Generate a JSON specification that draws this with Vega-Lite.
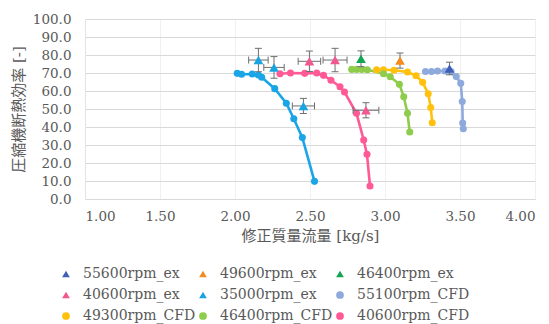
{
  "$schema": "https://vega.github.io/schema/vega-lite/v6.json",
  "width": 450,
  "height": 180,
  "autosize": {"type": "none"},
  "padding": {"left": 85, "top": 19, "right": 14, "bottom": 125},
  "background": "white",
  "config": {
    "font": "DejaVu Serif, Noto Sans CJK JP",
    "view": {"stroke": null},
    "axis": {"labelColor": "#595959", "titleColor": "#595959", "titleFontWeight": "normal", "ticks": false, "labelFontSize": 13.5, "titleFontSize": 15, "labelFont": "DejaVu Serif", "titleFont": "DejaVu Serif, Noto Sans CJK JP", "labelOverlap": false}
  },
  "datasets": {
    "ex": [
      {"series": "55600rpm_ex", "x": 3.43, "y": 72.5, "ylo": 69.0, "yhi": 76.0, "xlo": null, "xhi": null},
      {"series": "49600rpm_ex", "x": 3.10, "y": 76.9, "ylo": 72.7, "yhi": 81.1, "xlo": null, "xhi": null},
      {"series": "46400rpm_ex", "x": 2.84, "y": 77.9, "ylo": 73.5, "yhi": 82.3, "xlo": null, "xhi": null},
      {"series": "40600rpm_ex", "x": 2.496, "y": 76.5, "ylo": 70.8, "yhi": 82.2, "xlo": 2.421, "xhi": 2.571},
      {"series": "40600rpm_ex", "x": 2.667, "y": 77.2, "ylo": 70.7, "yhi": 83.7, "xlo": 2.587, "xhi": 2.747},
      {"series": "40600rpm_ex", "x": 2.873, "y": 49.3, "ylo": 45.1, "yhi": 53.5, "xlo": 2.787, "xhi": 2.959},
      {"series": "35000rpm_ex", "x": 2.156, "y": 77.2, "ylo": 70.7, "yhi": 83.7, "xlo": 2.091, "xhi": 2.221},
      {"series": "35000rpm_ex", "x": 2.26, "y": 73.1, "ylo": 67.1, "yhi": 79.1, "xlo": 2.192, "xhi": 2.328},
      {"series": "35000rpm_ex", "x": 2.456, "y": 51.7, "ylo": 47.5, "yhi": 55.9, "xlo": 2.382, "xhi": 2.530}
    ],
    "cfd": [
      {"series": "55100rpm_CFD", "x": 3.27, "y": 70.8},
      {"series": "55100rpm_CFD", "x": 3.31, "y": 70.8},
      {"series": "55100rpm_CFD", "x": 3.35, "y": 71.1},
      {"series": "55100rpm_CFD", "x": 3.40, "y": 71.1},
      {"series": "55100rpm_CFD", "x": 3.44, "y": 70.8},
      {"series": "55100rpm_CFD", "x": 3.475, "y": 68.0},
      {"series": "55100rpm_CFD", "x": 3.505, "y": 64.3},
      {"series": "55100rpm_CFD", "x": 3.515, "y": 54.2},
      {"series": "55100rpm_CFD", "x": 3.518, "y": 42.2},
      {"series": "55100rpm_CFD", "x": 3.522, "y": 39.0},
      {"series": "49300rpm_CFD", "x": 2.944, "y": 71.8},
      {"series": "49300rpm_CFD", "x": 2.99, "y": 71.8},
      {"series": "49300rpm_CFD", "x": 3.06, "y": 71.5},
      {"series": "49300rpm_CFD", "x": 3.15, "y": 70.6},
      {"series": "49300rpm_CFD", "x": 3.207, "y": 68.5},
      {"series": "49300rpm_CFD", "x": 3.251, "y": 64.8},
      {"series": "49300rpm_CFD", "x": 3.288, "y": 58.5},
      {"series": "49300rpm_CFD", "x": 3.305, "y": 50.8},
      {"series": "49300rpm_CFD", "x": 3.315, "y": 42.4},
      {"series": "46400rpm_CFD", "x": 2.778, "y": 72.0},
      {"series": "46400rpm_CFD", "x": 2.811, "y": 72.0},
      {"series": "46400rpm_CFD", "x": 2.845, "y": 72.0},
      {"series": "46400rpm_CFD", "x": 2.882, "y": 71.8},
      {"series": "46400rpm_CFD", "x": 2.99, "y": 69.6},
      {"series": "46400rpm_CFD", "x": 3.035, "y": 67.9},
      {"series": "46400rpm_CFD", "x": 3.096, "y": 63.7},
      {"series": "46400rpm_CFD", "x": 3.125, "y": 56.8},
      {"series": "46400rpm_CFD", "x": 3.15, "y": 47.6},
      {"series": "46400rpm_CFD", "x": 3.165, "y": 37.2},
      {"series": "40600rpm_CFD", "x": 2.30, "y": 69.6},
      {"series": "40600rpm_CFD", "x": 2.37, "y": 70.0},
      {"series": "40600rpm_CFD", "x": 2.465, "y": 69.8},
      {"series": "40600rpm_CFD", "x": 2.545, "y": 70.0},
      {"series": "40600rpm_CFD", "x": 2.59, "y": 68.7},
      {"series": "40600rpm_CFD", "x": 2.64, "y": 66.0},
      {"series": "40600rpm_CFD", "x": 2.70, "y": 62.4},
      {"series": "40600rpm_CFD", "x": 2.73, "y": 59.4},
      {"series": "40600rpm_CFD", "x": 2.81, "y": 47.6},
      {"series": "40600rpm_CFD", "x": 2.858, "y": 32.8},
      {"series": "40600rpm_CFD", "x": 2.88, "y": 24.8},
      {"series": "40600rpm_CFD", "x": 2.90, "y": 7.2},
      {"series": "35000rpm_CFD", "x": 2.015, "y": 69.8},
      {"series": "35000rpm_CFD", "x": 2.044, "y": 69.3},
      {"series": "35000rpm_CFD", "x": 2.115, "y": 69.4},
      {"series": "35000rpm_CFD", "x": 2.156, "y": 68.9},
      {"series": "35000rpm_CFD", "x": 2.178, "y": 67.6},
      {"series": "35000rpm_CFD", "x": 2.265, "y": 61.3},
      {"series": "35000rpm_CFD", "x": 2.342, "y": 53.2},
      {"series": "35000rpm_CFD", "x": 2.392, "y": 44.6},
      {"series": "35000rpm_CFD", "x": 2.449, "y": 34.1},
      {"series": "35000rpm_CFD", "x": 2.53, "y": 9.8}
    ]
  },
  "encoding": {
    "x": {"field": "x", "type": "quantitative", "scale": {"domain": [1, 4], "nice": false, "zero": false},
      "axis": {"title": "修正質量流量 [kg/s]", "values": [1, 1.5, 2, 2.5, 3, 3.5, 4], "format": ".2f", "grid": true, "gridColor": "#f0f0f0", "domainColor": "#d9d9d9", "labelPadding": 10, "titlePadding": 6}},
    "y": {"field": "y", "type": "quantitative", "scale": {"domain": [0, 100], "nice": false},
      "axis": {"title": "圧縮機断熱効率 [-]", "values": [0, 10, 20, 30, 40, 50, 60, 70, 80, 90, 100], "format": ".1f", "grid": true, "gridColor": "#d9d9d9", "domainColor": "#e4e4e4", "labelPadding": 14, "titlePadding": 6}}
  },
  "layer": [
    {
      "data": {"name": "cfd"},
      "mark": {"type": "line", "strokeWidth": 2.6},
      "encoding": {
        "stroke": {"field": "series", "type": "nominal",
          "scale": {
            "domain": ["55100rpm_CFD", "49300rpm_CFD", "46400rpm_CFD", "40600rpm_CFD", "35000rpm_CFD"],
            "range": ["#8eaadc", "#ffc10e", "#8fcc4b", "#ff5a96", "#1aa6e6"]
          },
          "legend": null
        }
      }
    },
    {
      "data": {"name": "cfd"},
      "mark": {"type": "point", "filled": true, "opacity": 1, "size": 50},
      "encoding": {
        "fill": {"field": "series", "type": "nominal",
          "scale": {
            "domain": ["55600rpm_ex", "49600rpm_ex", "46400rpm_ex", "40600rpm_ex", "35000rpm_ex", "55100rpm_CFD", "49300rpm_CFD", "46400rpm_CFD", "40600rpm_CFD", "35000rpm_CFD"],
            "range": ["#3f5fb8", "#f28c1e", "#12a552", "#f2578f", "#18a4e0", "#8eaadc", "#ffc10e", "#8fcc4b", "#ff5a96", "#1aa6e6"]
          },
          "legend": {
            "title": null,
            "orient": "none",
            "legendX": -26,
            "legendY": 248,
            "columns": 3,
            "direction": "horizontal",
            "gridAlign": "all",
            "values": ["55600rpm_ex", "49600rpm_ex", "46400rpm_ex", "40600rpm_ex", "35000rpm_ex", "55100rpm_CFD", "49300rpm_CFD", "46400rpm_CFD", "40600rpm_CFD"],
            "symbolSize": 60,
            "labelFontSize": 14,
            "labelFont": "DejaVu Serif",
            "labelColor": "#595959",
            "labelOffset": 10,
            "rowPadding": 7,
            "columnPadding": 0
          }
        },
        "shape": {"field": "series", "type": "nominal",
          "scale": {
            "domain": ["55600rpm_ex", "49600rpm_ex", "46400rpm_ex", "40600rpm_ex", "35000rpm_ex", "55100rpm_CFD", "49300rpm_CFD", "46400rpm_CFD", "40600rpm_CFD", "35000rpm_CFD"],
            "range": ["triangle-up", "triangle-up", "triangle-up", "triangle-up", "triangle-up", "circle", "circle", "circle", "circle", "circle"]
          },
          "legend": {
            "title": null,
            "orient": "none",
            "legendX": -26,
            "legendY": 248,
            "columns": 3,
            "direction": "horizontal",
            "gridAlign": "all",
            "values": ["55600rpm_ex", "49600rpm_ex", "46400rpm_ex", "40600rpm_ex", "35000rpm_ex", "55100rpm_CFD", "49300rpm_CFD", "46400rpm_CFD", "40600rpm_CFD"],
            "symbolSize": 60,
            "labelFontSize": 14,
            "labelFont": "DejaVu Serif",
            "labelColor": "#595959",
            "labelOffset": 10,
            "rowPadding": 7,
            "columnPadding": 0
          }
        }
      }
    },
    {
      "data": {"name": "ex"},
      "mark": {"type": "rule", "color": "#6e6e6e", "strokeWidth": 1},
      "encoding": {
        "y": {"field": "ylo", "type": "quantitative", "title": "圧縮機断熱効率 [-]"},
        "y2": {"field": "yhi"}
      }
    },
    {
      "data": {"name": "ex"},
      "transform": [{"filter": "datum.xlo != null"}],
      "mark": {"type": "rule", "color": "#6e6e6e", "strokeWidth": 1},
      "encoding": {
        "x": {"field": "xlo", "type": "quantitative", "title": "修正質量流量 [kg/s]"},
        "x2": {"field": "xhi"}
      }
    },
    {
      "data": {"name": "ex"},
      "mark": {"type": "point", "shape": "M-1,0H1", "filled": false, "stroke": "#6e6e6e", "strokeWidth": 1, "opacity": 1, "size": 49},
      "encoding": {
        "y": {"field": "ylo", "type": "quantitative", "title": "圧縮機断熱効率 [-]"}
      }
    },
    {
      "data": {"name": "ex"},
      "mark": {"type": "point", "shape": "M-1,0H1", "filled": false, "stroke": "#6e6e6e", "strokeWidth": 1, "opacity": 1, "size": 49},
      "encoding": {
        "y": {"field": "yhi", "type": "quantitative", "title": "圧縮機断熱効率 [-]"}
      }
    },
    {
      "data": {"name": "ex"},
      "transform": [{"filter": "datum.xlo != null"}],
      "mark": {"type": "point", "shape": "M0,-1V1", "filled": false, "stroke": "#6e6e6e", "strokeWidth": 1, "opacity": 1, "size": 49},
      "encoding": {
        "x": {"field": "xlo", "type": "quantitative", "title": "修正質量流量 [kg/s]"}
      }
    },
    {
      "data": {"name": "ex"},
      "transform": [{"filter": "datum.xlo != null"}],
      "mark": {"type": "point", "shape": "M0,-1V1", "filled": false, "stroke": "#6e6e6e", "strokeWidth": 1, "opacity": 1, "size": 49},
      "encoding": {
        "x": {"field": "xhi", "type": "quantitative", "title": "修正質量流量 [kg/s]"}
      }
    },
    {
      "data": {"name": "ex"},
      "mark": {"type": "point", "filled": true, "opacity": 1, "size": 95},
      "encoding": {
        "fill": {"field": "series", "type": "nominal"},
        "shape": {"field": "series", "type": "nominal"}
      }
    }
  ]
}
